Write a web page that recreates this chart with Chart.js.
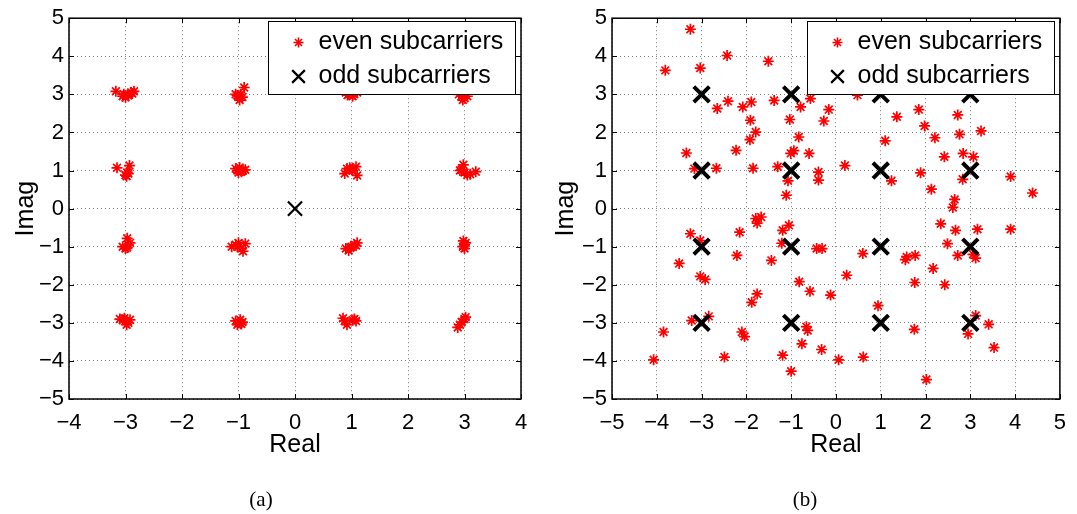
<!DOCTYPE html>
<html>
<head>
<meta charset="utf-8">
<script src="https://cdn.jsdelivr.net/npm/chart.js@4/dist/chart.umd.min.js"></script>
<style>
  body { margin: 0; background: #fff; }
  #wrap { position: relative; width: 1077px; height: 514px; background: #fff; }
  .pane { position: absolute; top: 0; height: 514px; }
  .cap { position: absolute; top: 487px; height: 24px; line-height: 24px; width: 80px; text-align: center;
         font-family: "Liberation Serif", "DejaVu Serif", serif; font-size: 21px; color: #000; }
</style>
</head>
<body>
<div id="wrap">
  <div class="pane" style="left:0;width:540px"><canvas id="chartA" width="540" height="514"></canvas></div>
  <div class="pane" style="left:540px;width:537px"><canvas id="chartB" width="537" height="514"></canvas></div>
  <div class="cap" style="left:221px">(a)</div>
  <div class="cap" style="left:765px">(b)</div>
</div>
<script>
'use strict';
/* global Chart */

// (a) axes
const xTicksA = [-4, -3, -2, -1, 0, 1, 2, 3, 4];
const yTicks = [-5, -4, -3, -2, -1, 0, 1, 2, 3, 4, 5];
// (b) axes
const xTicksB = [-5, -4, -3, -2, -1, 0, 1, 2, 3, 4, 5];

const legendLabels = ['even subcarriers', 'odd subcarriers'];

// (a) even subcarriers, clustered round the 16-QAM points
const evenAX = [
  -3.17, -3.05, -3.00, -2.95, -2.90, -2.85, -2.95, -3.03, -2.88,
  -1.05, -1.00, -0.98, -0.93, -0.90, -0.96, -1.02,
  0.90, 0.95, 1.00, 1.05, 1.10, 0.93, 1.02, 0.98,
  2.90, 2.95, 3.00, 3.05, 3.00, 2.97,
  -3.15, -2.93, -2.97, -3.00, -2.95, -2.98,
  -1.05, -1.00, -0.98, -0.92, -0.88, -1.02, -0.95,
  0.88, 0.92, 0.97, 1.02, 1.08, 1.10, 1.00,
  2.92, 2.98, 3.00, 3.05, 3.10, 3.20, 2.95,
  -3.05, -3.00, -2.97, -2.95, -2.92, -2.97,
  -1.12, -1.05, -1.00, -0.95, -0.92, -0.88, -1.02,
  0.90, 0.95, 1.00, 1.05, 1.10, 1.08, 0.98,
  2.98, 3.00, 3.00, 2.97, 3.02,
  -3.10, -3.05, -3.00, -2.95, -2.92, -2.98, -3.02,
  -1.05, -1.00, -0.97, -0.93, -1.02, -0.95,
  0.85, 0.88, 0.92, 1.02, 1.08, 1.05,
  2.88, 2.92, 2.95, 3.00, 3.02
];
const evenAY = [
  3.08, 2.95, 2.92, 3.00, 3.05, 3.08, 2.97, 3.00, 3.02,
  3.00, 2.95, 2.85, 2.93, 3.18, 3.00, 2.97,
  3.05, 3.00, 3.02, 3.00, 3.05, 2.98, 2.95, 3.08,
  3.00, 2.95, 2.90, 2.95, 3.02, 2.85,
  1.07, 1.13, 0.95, 0.88, 0.92, 0.85,
  1.05, 0.95, 1.08, 1.00, 1.02, 1.00, 0.97,
  0.92, 1.05, 1.07, 1.00, 1.10, 0.87, 1.03,
  1.00, 1.15, 0.95, 0.88, 0.90, 0.97, 1.02,
  -1.00, -1.05, -0.78, -0.95, -0.90, -1.02,
  -1.00, -0.95, -0.90, -1.05, -1.12, -0.92, -1.00,
  -1.05, -1.10, -1.00, -0.95, -0.90, -0.97, -1.03,
  -0.85, -0.95, -1.05, -1.00, -0.90,
  -2.90, -2.92, -2.95, -3.00, -2.92, -3.05, -2.88,
  -2.95, -3.00, -2.92, -2.98, -3.05, -3.03,
  -2.88, -2.95, -3.05, -2.93, -2.95, -2.90,
  -3.12, -3.05, -2.98, -2.90, -2.85
];
const oddAX = [0];
const oddAY = [0];

// (b) even subcarriers, widely scattered
const evenBX = [
  -3.25, -3.81, -3.03, -2.43, -1.51, -2.65, -2.41, -2.08, -1.89, -1.38,
  -1.91, -1.79, -1.92, -2.23, -3.34, -3.16, -2.67, -1.85, -1.30, -1.03,
  -0.79, -0.57, -0.16, -0.27, -0.83, -1.01, -0.94, -0.60, -1.07, -0.39,
  -0.39, -1.11, 0.20, 0.48, 1.10, 1.36, 1.24, 1.85, 1.98, 2.21,
  1.89, 2.42, 2.13, 2.72, 2.76, 2.84, 3.07, 3.24, 2.83, 2.65,
  2.61, 3.90, 4.39, 3.90, 3.16, 2.67, 2.34, 2.49, 2.72, 3.06,
  3.12, 1.77, 1.58, 1.55, 0.60, -0.43, -0.31, -1.19, -1.21, -1.05,
  -1.79, -1.76, -1.67, -2.15, -3.25, -3.03, -2.21, -1.44, -3.50, -3.03,
  -2.92, -0.82, -0.58, -0.12, 0.24, -1.76, -1.88, 0.94, 1.76, 2.17,
  2.43, -3.22, -2.84, -3.85, -4.07, -2.49, -2.10, -2.04, -0.66, -0.63,
  -0.76, -0.32, -1.19, -1.00, 0.06, 0.61, 1.75, 2.02, 3.12, 2.95,
  3.41, 3.53
];
const evenBY = [
  4.71, 3.63, 3.69, 4.02, 3.87, 2.63, 2.82, 2.67, 2.80, 2.84,
  2.32, 2.01, 1.81, 1.53, 1.46, 1.05, 1.06, 1.06, 1.10, 2.34,
  2.67, 2.89, 2.60, 2.30, 1.88, 1.45, 1.52, 1.45, 0.73, 0.96,
  0.75, 0.35, 1.13, 2.98, 1.78, 2.41, 0.73, 2.60, 2.17, 1.86,
  0.94, 1.36, 0.51, 2.46, 1.95, 1.45, 1.36, 2.04, 0.77, 0.24,
  0.03, 0.84, 0.41, -0.54, -0.54, -0.57, -0.40, -0.92, -1.23, -1.20,
  -1.30, -1.23, -1.27, -1.34, -1.18, -1.05, -1.05, -0.57, -0.91, -0.44,
  -0.26, -0.38, -0.22, -0.62, -0.66, -0.84, -1.23, -1.36, -1.44, -1.78,
  -1.86, -1.92, -2.17, -2.27, -1.75, -2.24, -2.46, -2.55, -1.94, -1.57,
  -2.00, -2.94, -2.83, -3.24, -3.97, -3.90, -3.24, -3.36, -3.10, -3.20,
  -3.55, -3.70, -3.85, -4.27, -3.97, -3.90, -3.17, -4.49, -2.81, -3.29,
  -3.04, -3.65
];
// (b) odd subcarriers sit exactly on the constellation
const oddBX = [-3, -1, 1, 3, -3, -1, 1, 3, -3, -1, 1, 3, -3, -1, 1, 3];
const oddBY = [3, 3, 3, 3, 1, 1, 1, 1, -1, -1, -1, -1, -3, -3, -3, -3];

const FONT = '"Liberation Sans", Arial, Helvetica, sans-serif';
const RED = '#ff0000';

function toPoints(xs, ys) {
  return xs.map((x, i) => ({ x, y: ys[i] }));
}

function drawMarker(ctx, style, x, y, r, lw, color) {
  ctx.save();
  ctx.strokeStyle = color;
  ctx.lineWidth = lw;
  ctx.beginPath();
  if (style === 'star') {
    ctx.moveTo(x - r, y); ctx.lineTo(x + r, y);
    ctx.moveTo(x, y - r); ctx.lineTo(x, y + r);
  }
  const d = r * Math.SQRT1_2;
  ctx.moveTo(x - d, y - d); ctx.lineTo(x + d, y + d);
  ctx.moveTo(x - d, y + d); ctx.lineTo(x + d, y - d);
  ctx.stroke();
  ctx.restore();
}

// frame, inward tick marks and the boxed legend (drawn over the data)
const framePlugin = {
  id: 'frameLegend',
  afterDraw(chart) {
    const { ctx, chartArea: a, scales } = chart;
    ctx.save();
    ctx.strokeStyle = '#000';
    ctx.lineWidth = 1;
    ctx.beginPath();
    scales.x.ticks.forEach(t => {
      const px = Math.round(scales.x.getPixelForValue(t.value)) + 0.5;
      ctx.moveTo(px, a.bottom); ctx.lineTo(px, a.bottom - 5);
      ctx.moveTo(px, a.top); ctx.lineTo(px, a.top + 5);
    });
    scales.y.ticks.forEach(t => {
      const py = Math.round(scales.y.getPixelForValue(t.value)) + 0.5;
      ctx.moveTo(a.left, py); ctx.lineTo(a.left + 5, py);
      ctx.moveTo(a.right, py); ctx.lineTo(a.right - 5, py);
    });
    ctx.stroke();

    // legend box
    const w = 247, h = 73;
    const bx = Math.round(a.right - 6 - w) + 0.5;
    const by = Math.round(a.top + 3) + 0.5;
    ctx.fillStyle = '#fff';
    ctx.fillRect(bx, by, w, h);
    ctx.strokeRect(bx, by, w, h);
    const rows = [by + 21, by + 55];
    drawMarker(ctx, 'star', bx + 30, rows[0], 5, 1.6, RED);
    drawMarker(ctx, 'x', bx + 30, rows[1], 9, 2.2, '#000');
    ctx.fillStyle = '#000';
    ctx.font = '25px ' + FONT;
    ctx.textBaseline = 'middle';
    ctx.textAlign = 'left';
    ctx.fillText(legendLabels[0], bx + 50, rows[0]);
    ctx.fillText(legendLabels[1], bx + 50, rows[1]);

    // full black box round the axes
    ctx.lineWidth = 1.5;
    ctx.strokeRect(a.left, a.top, a.right - a.left, a.bottom - a.top);
    ctx.restore();
  }
};

function makeChart(id, cfg) {
  const minus = v => (v < 0 ? '\u2212' + Math.abs(v) : String(v));
  const gridOpts = { color: 'rgba(0,0,0,0.5)', lineWidth: 1, drawTicks: false };
  return new Chart(document.getElementById(id), {
    type: 'scatter',
    data: {
      datasets: [
        {
          label: legendLabels[0],
          data: toPoints(cfg.evenX, cfg.evenY),
          pointStyle: 'star',
          radius: 5.5,
          borderWidth: 1.7,
          borderColor: RED,
          backgroundColor: RED,
          order: 1
        },
        {
          label: legendLabels[1],
          data: toPoints(cfg.oddX, cfg.oddY),
          pointStyle: 'crossRot',
          radius: cfg.oddRadius,
          borderWidth: cfg.oddWidth,
          borderColor: '#000',
          backgroundColor: '#000',
          order: 0
        }
      ]
    },
    options: {
      responsive: false,
      animation: false,
      events: [],
      layout: { padding: { top: 17, right: cfg.padRight, bottom: 45, left: 0 } },
      plugins: { legend: { display: false }, tooltip: { enabled: false } },
      scales: {
        x: {
          type: 'linear',
          min: cfg.xTicks[0],
          max: cfg.xTicks[cfg.xTicks.length - 1],
          afterBuildTicks: s => { s.ticks = cfg.xTicks.map(v => ({ value: v })); },
          afterFit: s => { s.height = 70; },
          grid: gridOpts,
          border: { display: false, dash: [1, 3] },
          ticks: { color: '#000', padding: 11, maxRotation: 0, font: { size: 22, family: FONT }, callback: minus },
          title: { display: true, text: 'Real', color: '#000', font: { size: 25, family: FONT }, padding: { top: 0, bottom: 9 } }
        },
        y: {
          type: 'linear',
          min: -5,
          max: 5,
          afterBuildTicks: s => { s.ticks = yTicks.map(v => ({ value: v })); },
          afterFit: s => { s.width = cfg.yWidth; },
          grid: gridOpts,
          border: { display: false, dash: [1, 3] },
          ticks: { color: '#000', padding: 5, font: { size: 22, family: FONT }, callback: minus },
          title: { display: true, text: 'Imag', color: '#000', font: { size: 25, family: FONT }, padding: { top: cfg.titlePad, bottom: 0 } }
        }
      }
    },
    plugins: [framePlugin]
  });
}

makeChart('chartA', {
  evenX: evenAX, evenY: evenAY, oddX: oddAX, oddY: oddAY,
  xTicks: xTicksA, oddRadius: 10, oddWidth: 2.2, padRight: 19, yWidth: 69, titlePad: 11
});
makeChart('chartB', {
  evenX: evenBX, evenY: evenBY, oddX: oddBX, oddY: oddBY,
  xTicks: xTicksB, oddRadius: 11, oddWidth: 4, padRight: 13, yWidth: 72, titlePad: 11
});
</script>
</body>
</html>
